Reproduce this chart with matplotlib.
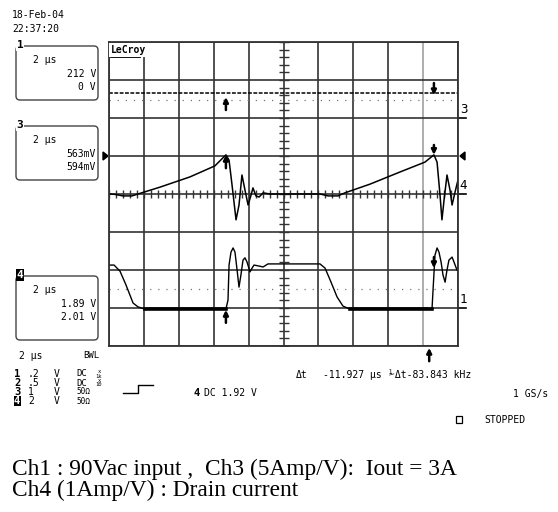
import numpy as np
import matplotlib
matplotlib.use("Agg")
import matplotlib.pyplot as plt
from matplotlib.patches import FancyBboxPatch, Polygon

# Scope settings (10 div x 2 us, 8 div vertical)
time_per_div = 2.0
n_xdiv = 10
n_ydiv = 8

# Ch4 - drain current ramp (time in us, level in divisions)
ch4_t = [0.0, 0.34, 0.80, 1.32, 1.66, 2.92, 4.64, 6.07, 6.70, 6.88, 7.05, 7.28, 7.45,
         7.62, 7.79, 7.97, 8.14, 8.25, 8.42, 8.60, 8.83, 9.23, 10.95, 12.09, 12.55,
         13.12, 13.52, 14.96, 16.68, 18.11, 18.62, 18.80, 18.97, 19.08, 19.20, 19.37,
         19.54, 19.66, 19.83, 20.0]
ch4_v = [0.0, -0.01, -0.05, -0.05, 0.0, 0.18, 0.45, 0.74, 1.03, 0.89, 0.24, -0.68, -0.29,
         0.50, 0.11, -0.29, -0.03, 0.16, -0.05, -0.08, 0.03, 0.0, 0.0, 0.0, -0.05,
         -0.05, 0.03, 0.26, 0.58, 0.84, 1.03, 0.84, -0.03, -0.68, -0.16, 0.50,
         0.11, -0.29, 0.05, 0.37]

# Ch1 - drain voltage
ch1_t = [0.0, 0.29, 0.63, 0.97, 1.38, 1.66, 2.06, 6.70, 6.82, 6.88, 6.99, 7.11, 7.22,
         7.34, 7.45, 7.56, 7.68, 7.79, 7.91, 8.08, 8.20, 8.31, 8.54, 8.83, 9.11, 9.80,
         10.95, 12.09, 12.38, 12.67, 13.07, 13.41, 13.81, 18.51, 18.57, 18.68, 18.80,
         18.91, 19.03, 19.14, 19.26, 19.37, 19.48, 19.66, 19.77, 19.94]
ch1_v = [-1.87, -1.87, -2.03, -2.39, -2.87, -2.97, -3.03, -3.03, -2.79, -1.87, -1.53,
         -1.42, -1.53, -2.00, -2.45, -2.13, -1.74, -1.68, -1.79, -2.05, -1.95, -1.87,
         -1.89, -1.92, -1.84, -1.84, -1.84, -1.84, -1.95, -2.26, -2.71, -2.95, -3.03,
         -3.03, -2.53, -1.61, -1.42, -1.53, -1.79, -2.13, -2.32, -2.00, -1.74, -1.66,
         -1.79, -2.00]
ch1_low = [(2.06, 6.70), (13.81, 18.51)]
ch1_low_level = -3.03

# Ch3 - output current (flat)
ch3_t = [0.0, 20.0]
ch3_v = [2.65, 2.65]
ref_levels = [2.47, -2.5]

# channel ground markers on the right edge
gnd_labels = ["3", "4", "1"]
gnd_levels = [2.0, 0.0, -3.0]

# cursor arrows: (time, head level, tail level)
cursor_arrows = [(6.70, 2.55, 2.21), (18.62, 2.60, 2.92),
                 (6.70, 1.03, 0.68), (18.62, 1.03, 1.29),
                 (6.70, -3.05, -3.39), (18.62, -1.95, -1.66),
                 (18.35, -4.05, -4.40)]

W, H = 558, 512
fig = plt.figure(figsize=(W / 100, H / 100), dpi=100)
mono = "DejaVu Sans Mono"

# overlay in pixel coordinates for the instrument text
deco = fig.add_axes([0, 0, 1, 1])
deco.set_xlim(0, W)
deco.set_ylim(H, 0)
deco.axis("off")

# scope screen
gl, gr, gt, gb = 109, 458, 42, 346
ax = fig.add_axes([gl / W, 1 - gb / H, (gr - gl) / W, (gb - gt) / H])
xmax = n_xdiv * time_per_div
ax.set_xlim(0, xmax)
ax.set_ylim(-n_ydiv / 2, n_ydiv / 2)
ax.set_xticks(np.arange(0, xmax + 0.1, time_per_div))
ax.set_yticks(np.arange(-4, 5, 1))
ax.grid(True, color="#333333", lw=1.2)
ax.tick_params(length=0, labelbottom=False, labelleft=False)
for s in ax.spines.values():
    s.set_color("#333333")
    s.set_linewidth(1.3)
ax.get_xgridlines()[9].set_color("#a0a0a0")

# minor ticks on the centre cross
xt = np.arange(0, xmax + 0.01, time_per_div / 5)
ax.plot(xt, np.zeros_like(xt), ls="none", marker="|", ms=6, color="#333333", mew=1)
yt = np.arange(-4, 4.01, 0.2)
ax.plot(np.full_like(yt, xmax / 2), yt, ls="none", marker="_", ms=7, color="#333333", mew=1)

# dotted reference lines
for lv in ref_levels:
    ax.plot([0, xmax], [lv, lv], color="#777777", lw=0.9, ls=(0, (1, 5.5)))

# traces
ax.plot(ch3_t, ch3_v, color="black", lw=1.1, ls=(0, (2.5, 1)))
ax.plot(ch4_t, ch4_v, color="black", lw=1.1)
ax.plot(ch1_t, ch1_v, color="black", lw=1.0)
for a, b in ch1_low:
    ax.plot([a, b], [ch1_low_level, ch1_low_level], color="black", lw=2.6)

for t, head, tail in cursor_arrows:
    ax.annotate("", xy=(t, head), xytext=(t, tail), annotation_clip=False,
                arrowprops=dict(arrowstyle="-|>", lw=1.8, color="black",
                                mutation_scale=7, shrinkA=0, shrinkB=0))

ax.text(0.12, 3.78, "LeCroy", fontsize=7, fontweight="bold", family=mono,
        va="center", ha="left", bbox=dict(fc="white", ec="none", pad=1.5))
ax.plot([0.12, 1.75], [3.6, 3.6], color="black", lw=1.3)

# ground markers on the right edge
for lab, lv in zip(gnd_labels, gnd_levels):
    ax.plot([xmax, xmax * 1.022], [lv, lv], color="black", lw=1.2, clip_on=False)
    ax.text(xmax * 1.005, lv + 0.05, lab, fontsize=9, family=mono, ha="left", va="bottom")

# trigger level pointers
deco.add_patch(Polygon([[103, 152], [103, 160], [108, 156]], color="black"))
deco.add_patch(Polygon([[465, 152], [465, 160], [460, 156]], color="black"))

# date / time
deco.text(12, 15, "18-Feb-04", fontsize=7, family=mono, va="center")
deco.text(12, 29, "22:37:20", fontsize=7, family=mono, va="center")

# channel boxes
boxes = [("1", 46, 100, ["2 µs", "212 V", "0 V"], False),
         ("3", 126, 180, ["2 µs", "563mV", "594mV"], False),
         ("4", 276, 340, ["2 µs", "1.89 V", "2.01 V"], True)]
for lab, top, bot, lines, inv in boxes:
    deco.add_patch(FancyBboxPatch((16, top), 82, bot - top,
                                  boxstyle="round,pad=0,rounding_size=4",
                                  fc="none", ec="#444444", lw=1.0))
    if inv:
        deco.text(20, top - 1, lab, fontsize=8, fontweight="bold", family=mono,
                  color="white", va="center", ha="center",
                  bbox=dict(fc="black", ec="none", pad=0.6))
    else:
        deco.text(20, top - 1, lab, fontsize=8, fontweight="bold", family=mono,
                  va="center", ha="center", bbox=dict(fc="white", ec="none", pad=0.6))
    deco.text(33, top + 14, lines[0], fontsize=7, family=mono, va="center")
    deco.text(96, top + 28, lines[1], fontsize=7, family=mono, va="center", ha="right")
    deco.text(96, top + 41, lines[2], fontsize=7, family=mono, va="center", ha="right")

# bottom-left channel table
deco.text(19, 356, "2 µs", fontsize=7, family=mono, va="center")
deco.text(83, 356, "BWL", fontsize=6.5, family=mono, va="center")
rows = [("1", ".2", "DC", "1k"), ("2", ".5", "DC", "10"),
        ("3", "1", "50Ω", ""), ("4", "2", "50Ω", "")]
for i, (ch, vd, cp, att) in enumerate(rows):
    y = 374 + 9 * i
    if ch == "4":
        deco.text(14, y, ch, fontsize=7.5, fontweight="bold", family=mono, color="white",
                  va="center", bbox=dict(fc="black", ec="none", pad=0.2))
    else:
        deco.text(14, y, ch, fontsize=7.5, fontweight="bold", family=mono, va="center")
    deco.text(34, y, vd, fontsize=7, family=mono, va="center", ha="right" if len(vd) == 1 else "center")
    deco.text(54, y, "V", fontsize=7, family=mono, va="center")
    deco.text(76, y, cp, fontsize=6.5 if cp == "DC" else 5.5, family=mono, va="center")
    if att:
        deco.text(99, y - 2.5, "x", fontsize=4, family=mono, va="center", ha="center")
        deco.text(99, y + 2, att, fontsize=4, family=mono, va="center", ha="center")

# trigger step glyph
deco.plot([123, 138, 138, 153], [393, 393, 385, 385], color="black", lw=1.0)
deco.text(194, 393, "4", fontsize=7.5, fontweight="bold", family=mono, va="center")
deco.text(204, 393, "DC 1.92 V", fontsize=7, family=mono, va="center")

# cursor readout
deco.text(296, 375, "Δt", fontsize=7, family=mono, va="center")
deco.text(323, 375, "-11.927 µs", fontsize=7, family=mono, va="center")
deco.text(389, 375, "⅟Δt-83.843 kHz", fontsize=7, family=mono, va="center")
deco.text(548, 394, "1 GS/s", fontsize=7, family=mono, va="center", ha="right")
deco.add_patch(plt.Rectangle((456, 416), 6, 7, fc="none", ec="black", lw=0.9))
deco.text(484, 420, "STOPPED", fontsize=7, family=mono, va="center")

# caption
deco.text(12, 469, "Ch1 : 90Vac input ,  Ch3 (5Amp/V):  Iout = 3A", fontsize=16.8,
          family="Liberation Serif", va="center")
deco.text(12, 490, "Ch4 (1Amp/V) : Drain current", fontsize=16.8,
          family="Liberation Serif", va="center")

fig.savefig("out.png", dpi=100)
